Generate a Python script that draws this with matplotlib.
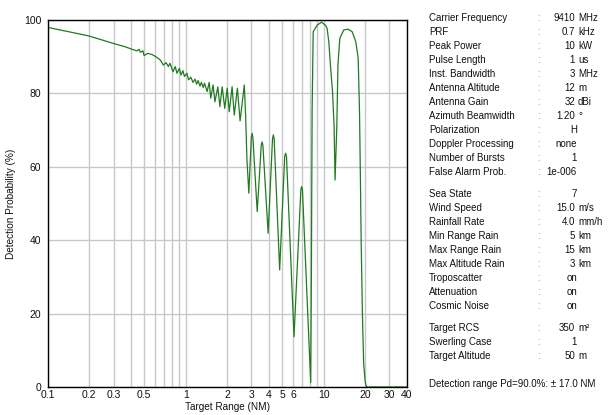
import matplotlib
matplotlib.use("Agg")
import matplotlib.pyplot as plt

plt.rcParams['font.family'] = ['Liberation Sans', 'DejaVu Sans']

# ---- detection probability curve ----
range_nm = [0.1, 0.134, 0.197, 0.30, 0.365, 0.41, 0.443, 0.46, 0.47, 0.49,
            0.50, 0.53, 0.57, 0.62, 0.655, 0.69, 0.72, 0.75, 0.77, 0.81,
            0.84, 0.865, 0.90, 0.925, 0.955, 0.98, 1.02, 1.05, 1.09, 1.13,
            1.17, 1.20, 1.23, 1.27, 1.30, 1.34, 1.37, 1.43, 1.48, 1.52,
            1.58, 1.63, 1.71, 1.77, 1.84, 1.92, 2.00, 2.07, 2.17, 2.25,
            2.37, 2.48, 2.66, 2.72, 2.78, 2.87, 2.99, 3.03, 3.07, 3.30,
            3.53, 3.58, 3.63, 3.96, 4.26, 4.32, 4.38, 4.80, 5.22, 5.30,
            5.38, 6.10, 6.84, 6.93, 7.02, 8.06, 8.15, 8.25, 8.4, 8.98,
            9.64, 10.3, 10.6, 10.9, 11.2, 11.6, 11.9, 12.1, 12.45, 12.7,
            13.1, 14.0, 15.0, 16.1, 17.1, 17.8, 18.2, 18.5, 18.7, 18.9,
            19.1, 19.5, 20.0, 20.4, 40.0]
pd_pct = [98.0, 97.0, 95.7, 93.6, 92.7, 92.0, 91.6, 92.0, 91.2, 91.6,
          90.3, 90.9, 90.6, 89.8, 89.1, 87.7, 88.4, 87.3, 88.2, 85.9,
          87.3, 85.5, 86.8, 85.0, 86.2, 84.6, 85.5, 83.7, 84.4, 83.0,
          83.9, 82.5, 83.5, 82.0, 83.0, 81.6, 82.8, 80.5, 83.0, 78.7,
          82.3, 77.7, 81.8, 76.4, 81.8, 75.9, 81.4, 75.0, 81.8, 74.1,
          81.4, 72.5, 82.3, 74.0, 62.0, 52.8, 68.0, 69.1, 68.0, 47.8,
          65.8, 66.8, 65.8, 41.9, 67.6, 68.7, 67.6, 31.9, 62.8, 63.7,
          62.8, 13.7, 53.8, 54.6, 53.8, 1.2, 30.0, 75.0, 96.8, 98.6,
          99.4, 98.6, 97.7, 94.1, 87.7, 80.5, 71.4, 56.4, 70.5, 87.7,
          95.0, 97.3, 97.5, 96.8, 94.1, 89.6, 75.0, 55.0, 40.0, 30.0,
          20.0, 6.4, 1.5, 0.0, 0.0]

grid_x = [0.1, 0.2, 0.3, 0.4, 0.5, 0.6, 0.7, 0.8, 0.9, 1, 2, 3, 4, 5, 6,
          7, 8, 9, 10, 20, 30, 40]
grid_x_labels = ['0.1', '0.2', '0.3', '', '0.5', '', '', '', '', '1', '2',
                 '3', '4', '5', '6', '', '', '', '10', '20', '30', '40']
y_ticks = [0, 20, 40, 60, 80, 100]

# ---- parameter table on the right ----
groups = [
    [("Carrier Frequency", "9410", "MHz"), ("PRF", "0.7", "kHz"),
     ("Peak Power", "10", "kW"), ("Pulse Length", "1", "us"),
     ("Inst. Bandwidth", "3", "MHz"), ("Antenna Altitude", "12", "m"),
     ("Antenna Gain", "32", "dBi"), ("Azimuth Beamwidth", "1.20", "°"),
     ("Polarization", "H", ""), ("Doppler Processing", "none", ""),
     ("Number of Bursts", "1", ""), ("False Alarm Prob.", "1e-006", "")],
    [("Sea State", "7", ""), ("Wind Speed", "15.0", "m/s"),
     ("Rainfall Rate", "4.0", "mm/h"), ("Min Range Rain", "5", "km"),
     ("Max Range Rain", "15", "km"), ("Max Altitude Rain", "3", "km"),
     ("Troposcatter", "on", ""), ("Attenuation", "on", ""),
     ("Cosmic Noise", "on", "")],
    [("Target RCS", "350", "m²"), ("Swerling Case", "1", ""),
     ("Target Altitude", "50", "m")],
]
footer = "Detection range Pd=90.0%: ± 17.0 NM"

W, H = 614, 415
fig = plt.figure(figsize=(W / 100, H / 100), dpi=100)
ax = fig.add_axes([47.7 / W, 1 - 387 / H, 359 / W, 367 / H])

ax.plot(range_nm, pd_pct, color="#207a20", lw=0.9, zorder=3)
ax.set_xscale("log")
ax.set_xlim(0.1, 40)
ax.set_ylim(0, 100)
ax.set_xticks(grid_x, grid_x_labels)
ax.minorticks_off()
ax.set_yticks(y_ticks, [str(v) for v in y_ticks])
ax.tick_params(length=0, labelsize=7.5, labelcolor="#111111")
ax.tick_params(axis="y", pad=4.5)
ax.tick_params(axis="x", pad=2.5)
ax.grid(True, color="#c8c8c8", lw=1.0, zorder=0)
for s in ax.spines.values():
    s.set_color("black")
    s.set_linewidth(1.0)
    s.set_zorder(4)
ax.set_xlabel("Target Range (NM)", fontsize=7.2, labelpad=1, color="#111111")
ax.set_ylabel("Detection Probability (%)", fontsize=7.2, labelpad=6,
              color="#111111")


def px(x, y):
    return x / W, 1 - y / H


y = 18.3
step = 14.0
for gi, rows in enumerate(groups):
    if gi > 0:
        y += 8
    for name, val, unit in rows:
        kw = dict(fontsize=7, va="center", color="#111111")
        fig.text(*px(429, y), name, ha="left", **kw)
        fig.text(*px(537, y), ":", ha="left", fontsize=7, va="center",
                 color="#8a8a8a")
        if unit:
            fig.text(*px(575, y), val, ha="right", **kw)
            fig.text(*px(578, y), unit, ha="left", **kw)
        else:
            fig.text(*px(577, y), val, ha="right", **kw)
        y += step
fig.text(*px(429, 384), footer, ha="left", va="center", fontsize=7,
         color="#111111")

fig.savefig("out.png", dpi=100)
